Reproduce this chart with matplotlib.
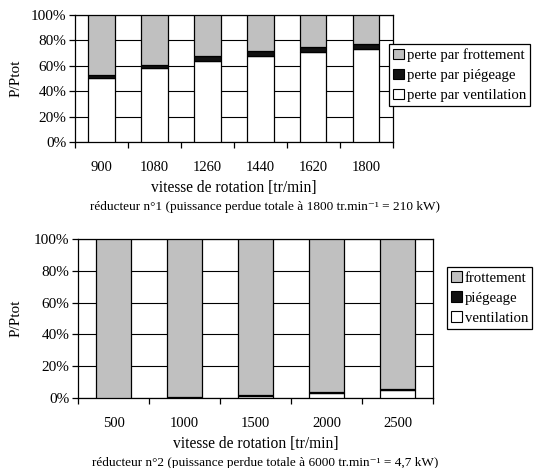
import matplotlib
matplotlib.use('Agg')
import matplotlib.pyplot as plt
from matplotlib.patches import Patch
import numpy as np

plt.rcParams['font.family'] = ['Liberation Serif', 'DejaVu Serif']

# réducteur n°1
vitesse1 = [900, 1080, 1260, 1440, 1620, 1800]
ventilation1 = [50, 58, 64, 68, 71, 73]
piegeage1 = [3, 3, 3.5, 4, 4, 4.5]
frottement1 = [47, 39, 32.5, 28, 25, 22.5]

# réducteur n°2
vitesse2 = [500, 1000, 1500, 2000, 2500]
ventilation2 = [0.1, 0.5, 1.5, 3.4, 4.8]
piegeage2 = [0.1, 0.3, 0.4, 0.5, 0.8]
frottement2 = [99.8, 99.2, 98.1, 96.1, 94.4]

c_frott = '#c0c0c0'
c_pieg = '#111111'
c_vent = 'white'

fig = plt.figure(figsize=(5.35, 4.68), dpi=100)


def draw(ax, vitesse, vent, pieg, frott):
    x = np.arange(len(vitesse))
    vent = np.array(vent)
    pieg = np.array(pieg)
    frott = np.array(frott)
    kw = dict(width=0.5, edgecolor='black', linewidth=0.9, zorder=3)
    ax.bar(x, vent, color=c_vent, **kw)
    ax.bar(x, pieg, bottom=vent, color=c_pieg, **kw)
    ax.bar(x, frott, bottom=vent + pieg, color=c_frott, **kw)
    ax.set_xlim(-0.5, len(vitesse) - 0.5)
    ax.set_ylim(0, 100)
    ax.set_yticks(range(0, 101, 20))
    ax.set_yticklabels([f'{v}%' for v in range(0, 101, 20)], fontsize=11)
    ax.set_xticks(np.arange(len(vitesse) + 1) - 0.5)
    ax.set_xticklabels([])
    ax.set_xticks(x, minor=True)
    ax.set_xticklabels([str(v) for v in vitesse], minor=True, fontsize=10.5)
    ax.tick_params(axis='x', which='minor', length=0, pad=14)
    ax.tick_params(axis='x', which='major', length=4, width=0.9, direction='out')
    ax.tick_params(axis='y', length=4, width=0.9, pad=2)
    ax.yaxis.grid(True, color='black', linewidth=0.8, zorder=0)
    ax.set_axisbelow(True)
    for s in ax.spines.values():
        s.set_linewidth(0.9)
        s.set_color('black')
    ax.set_xlabel('vitesse de rotation [tr/min]', fontsize=11.2, labelpad=4)
    ax.set_ylabel('P/Ptot', fontsize=11, labelpad=4)


ax1 = fig.add_axes([0.140, 0.6966, 0.594, 0.2714])
draw(ax1, vitesse1, ventilation1, piegeage1, frottement1)
ax1.yaxis.set_label_coords(-0.165, 0.5)

ax2 = fig.add_axes([0.1458, 0.1496, 0.6636, 0.3397])
draw(ax2, vitesse2, ventilation2, piegeage2, frottement2)
ax2.yaxis.set_label_coords(-0.155, 0.5)


def legend(labels, anchor):
    handles = [Patch(facecolor=c_frott, edgecolor='black', linewidth=0.8),
               Patch(facecolor=c_pieg, edgecolor='black', linewidth=0.8),
               Patch(facecolor=c_vent, edgecolor='black', linewidth=0.8)]
    lg = fig.legend(handles, labels, loc='upper left', bbox_to_anchor=anchor,
                    fontsize=10.6, frameon=True, fancybox=False, framealpha=1,
                    edgecolor='black', handlelength=0.7, handleheight=0.7,
                    handletextpad=0.2, borderpad=0.3, labelspacing=0.45,
                    borderaxespad=0)
    lg.get_frame().set_linewidth(0.9)


legend(['perte par frottement', 'perte par piégeage', 'perte par ventilation'],
       (0.727, 0.906))
legend(['frottement', 'piégeage', 'ventilation'], (0.8355, 0.4295))

fig.text(0.495, 1 - 207 / 468,
         'réducteur n°1 (puissance perdue totale à 1800 tr.min⁻¹ = 210 kW)',
         ha='center', va='center', fontsize=9.5)
fig.text(0.495, 1 - 463 / 468,
         'réducteur n°2 (puissance perdue totale à 6000 tr.min⁻¹ = 4,7 kW)',
         ha='center', va='center', fontsize=9.5)

fig.savefig('out.png', dpi=100)
